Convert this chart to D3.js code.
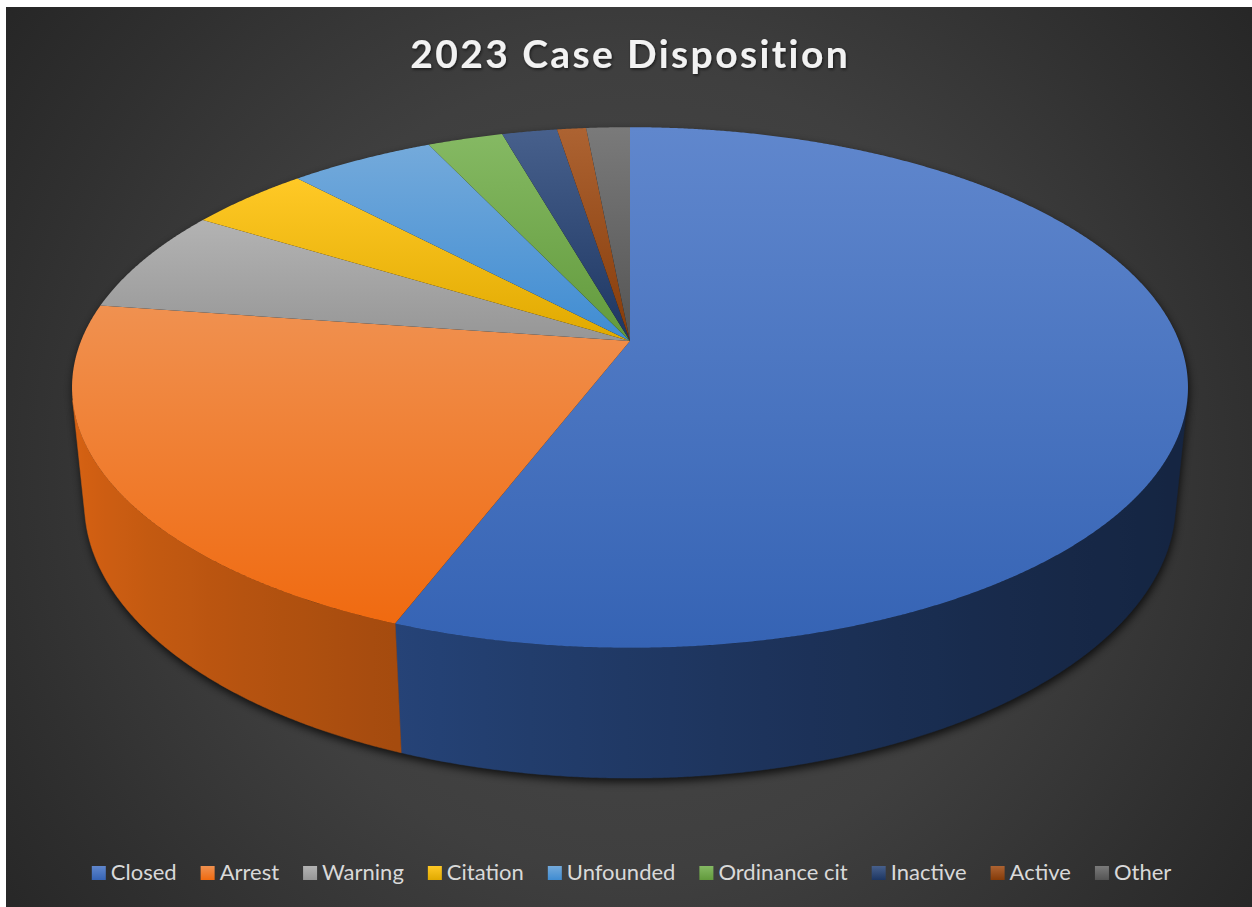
<!DOCTYPE html>
<html>
<head>
<meta charset="utf-8">
<script src="https://cdn.jsdelivr.net/npm/d3@7/dist/d3.min.js"></script>
<style>
  html, body { margin: 0; padding: 0; background: #ffffff; }
  svg { display: block; }
</style>
</head>
<body>
<svg id="chart" width="1252" height="907"></svg>
<script>
// Case disposition categories and their counts for 2023
const categories = ["Closed", "Arrest", "Warning", "Citation", "Unfounded", "Ordinance cit", "Inactive", "Active", "Other"];
const caseCounts = [558, 215, 65, 42, 50, 26, 19, 10, 15];
const sliceColors = ["#4472c4", "#ed7d31", "#a5a5a5", "#ffc000", "#5b9bd5", "#70ad47", "#264478", "#9e480e", "#636363"];
const chartTitle = "2023 Case Disposition";

const W = 1252, H = 907;
const svg = d3.select("#chart");
const defs = svg.append("defs");

// ---- background panel with a soft radial glow ----
const bg = defs.append("radialGradient").attr("id", "bgGrad")
  .attr("gradientUnits", "userSpaceOnUse")
  .attr("cx", 630).attr("cy", 470).attr("r", 800);
[[0, "#4a4a4a"], [0.5, "#3f3f3f"], [0.78, "#303030"], [1, "#252525"]]
  .forEach(([o, c]) => bg.append("stop").attr("offset", o).attr("stop-color", c));
svg.append("rect").attr("x", 6).attr("y", 7).attr("width", W - 6).attr("height", H - 7)
  .attr("fill", "url(#bgGrad)");

// ---- 3D perspective projection of a unit-radius pie disc ----
const view = {
  cx: 630, cy: 341,          // screen position of the disc centre (top face)
  k: 549,                    // focal scale in px per radius
  tilt: Math.asin(0.459),    // camera elevation
  dist: 4.975,               // camera distance in radii
  depth: 0.2393              // disc thickness in radii
};
const cosT = Math.cos(view.tilt), sinT = Math.sin(view.tilt);

function project(phi, h, r = 1) {
  const x3 = r * Math.sin(phi), z3 = -r * Math.cos(phi), y3 = h;
  const yc = y3 * cosT - z3 * sinT;
  const dc = z3 * cosT + y3 * sinT;
  const s = view.dist / (view.dist - dc);
  return [view.cx + view.k * x3 * s, view.cy - view.k * yc * s];
}

const pie = d3.pie().sort(null).value(d => d);
const arcs = pie(caseCounts);
const step = Math.PI / 720;

function arcPoints(a0, a1, h) {
  const n = Math.max(2, Math.ceil((a1 - a0) / step));
  return d3.range(n + 1).map(i => project(a0 + (a1 - a0) * i / n, h));
}

// side wall is visible where its outward normal faces the camera
const phiA = Math.acos(-1 / (view.dist * cosT));
const phiB = 2 * Math.PI - phiA;
const bottomH = -view.depth;

// colour helpers
function topLight(c) { return d3.interpolateRgb(c, "#ffffff")(0.15); }
function topDark(c) {
  const h = d3.hsl(c); h.l = Math.max(0, h.l - 0.06); h.s = Math.min(1, h.s * 1.05); return h.formatHex();
}
function sideShade(c, phi) {
  const h = d3.hsl(c);
  h.l = Math.max(0, h.l + (-21.2 + 13.5 * Math.cos(phi - 290 * Math.PI / 180)) / 100);
  return h.formatHex();
}

// vertical gradients for top faces and legend keys
sliceColors.forEach((c, i) => {
  const g = defs.append("linearGradient").attr("id", "top" + i)
    .attr("x1", 0).attr("y1", 0).attr("x2", 0).attr("y2", 1);
  g.append("stop").attr("offset", 0).attr("stop-color", topLight(c));
  g.append("stop").attr("offset", 1).attr("stop-color", topDark(c));
});

// ---- drop shadow beneath the disc ----
const shadowF = defs.append("filter").attr("id", "pieShadow")
  .attr("x", "-10%").attr("y", "-10%").attr("width", "120%").attr("height", "130%");
shadowF.append("feGaussianBlur").attr("stdDeviation", 4);

const fullTop = arcPoints(0, 2 * Math.PI, 0);
const sideTop = arcPoints(phiA, phiB, 0);
const sideBot = arcPoints(phiA, phiB, bottomH).reverse();
const line = d3.line();

svg.append("path")
  .attr("d", line(fullTop) + "Z")
  .attr("transform", "translate(1,4)")
  .attr("fill", "#000").attr("opacity", 0.75)
  .attr("filter", "url(#pieShadow)");
svg.append("path")
  .attr("d", line(sideTop.concat(sideBot)) + "Z")
  .attr("transform", "translate(1,4)")
  .attr("fill", "#000").attr("opacity", 0.75)
  .attr("filter", "url(#pieShadow)");

const pieG = svg.append("g");

// ---- outer side walls ----
arcs.forEach((d, i) => {
  const a = Math.max(d.startAngle, phiA), b = Math.min(d.endAngle, phiB);
  if (a >= b) return;
  const top = arcPoints(a, b, 0);
  const bot = arcPoints(a, b, bottomH).reverse();
  const xa = project(a, 0)[0], xb = project(b, 0)[0];
  const g = defs.append("linearGradient").attr("id", "side" + i)
    .attr("gradientUnits", "userSpaceOnUse")
    .attr("x1", xa).attr("y1", 0).attr("x2", xb).attr("y2", 0);
  const n = 24;
  d3.range(n + 1).forEach(j => {
    const phi = a + (b - a) * j / n;
    const x = project(phi, 0)[0];
    g.append("stop").attr("offset", (x - xa) / (xb - xa))
      .attr("stop-color", sideShade(sliceColors[i], phi));
  });
  pieG.append("path")
    .attr("d", line(top.concat(bot)) + "Z")
    .attr("fill", `url(#side${i})`)
    .attr("stroke", `url(#side${i})`).attr("stroke-width", 0.5);
});

// ---- top faces ----
const centre = project(0, 0, 0);
arcs.forEach((d, i) => {
  const pts = [centre].concat(arcPoints(d.startAngle, d.endAngle, 0));
  pieG.append("path")
    .attr("d", line(pts) + "Z")
    .attr("fill", `url(#top${i})`);
});

// ---- title ----
const titleShadow = defs.append("filter").attr("id", "titleShadow")
  .attr("x", "-5%").attr("y", "-20%").attr("width", "110%").attr("height", "150%");
titleShadow.append("feDropShadow").attr("dx", 1).attr("dy", 1.5)
  .attr("stdDeviation", 1.5).attr("flood-color", "#000").attr("flood-opacity", 0.6);

const title = svg.append("text")
  .attr("x", 629).attr("y", 68)
  .attr("text-anchor", "middle")
  .attr("font-family", "Lato, 'Open Sans', sans-serif")
  .attr("font-weight", 700)
  .attr("font-size", 39)
  .attr("fill", "#f2f2f2")
  .attr("filter", "url(#titleShadow)")
  .text(chartTitle);
{
  const w = title.node().getComputedTextLength();
  const target = 438;
  const ls = (target - w) / (chartTitle.length - 1);
  title.attr("letter-spacing", ls.toFixed(2)).attr("x", 629 + ls / 2);
}

// ---- legend ----
const legend = svg.append("g");
let lx = 0;
categories.forEach((name, i) => {
  const item = legend.append("g").attr("transform", `translate(${lx},0)`);
  item.append("rect").attr("x", 0).attr("y", 866).attr("width", 14).attr("height", 14)
    .attr("fill", `url(#top${i})`);
  const t = item.append("text").attr("x", 19).attr("y", 880)
    .attr("font-family", "Lato, 'Open Sans', sans-serif")
    .attr("font-size", 22)
    .attr("fill", "#d9d9d9")
    .text(name);
  lx += 19 + t.node().getComputedTextLength() + 24;
});
{
  const total = lx - 24;
  legend.attr("transform", `translate(${(631.5 - total / 2).toFixed(1)},0)`);
}
</script>
</body>
</html>
